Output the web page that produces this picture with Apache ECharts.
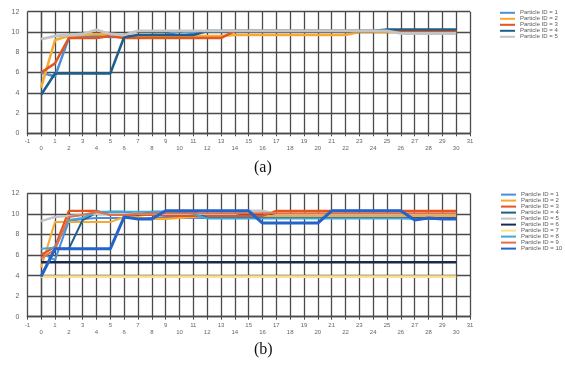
<!DOCTYPE html>
<html>
<head>
<meta charset="utf-8">
<script src="https://cdn.jsdelivr.net/npm/echarts@6/dist/echarts.min.js"></script>
<style>
html,body{margin:0;padding:0;background:#fff;}
#c{width:565px;height:366px;}
</style>
</head>
<body>
<div id="c"></div>
<script>
// ---- data ----
const xValues = [0,1,2,3,4,5,6,7,8,9,10,11,12,13,14,15,16,17,18,19,20,21,22,23,24,25,26,27,28,29,30];
const yTicks = [0,2,4,6,8,10,12];
const xTicks = [-1,31];

const namesA = ['Particle ID = 1','Particle ID = 2','Particle ID = 3','Particle ID = 4','Particle ID = 5'];
const namesB = ['Particle ID = 1','Particle ID = 2','Particle ID = 3','Particle ID = 4','Particle ID = 5',
                'Particle ID = 6','Particle ID = 7','Particle ID = 8','Particle ID = 9','Particle ID = 10'];

// chart (a)
const a_id1 = [6.0,5.6,9.4,9.5,9.6,9.5,9.5,9.6,9.7,9.7,10.1,9.9,10.1,10.1,10.1,10.1,10.1,10.1,10.1,10.1,10.1,10.1,10.1,10.1,10.1,10.1,10.1,10.1,10.1,10.1,10.1];
const a_id2 = [4.5,9.2,9.6,9.7,9.8,9.7,9.55,9.55,9.55,9.55,9.55,9.6,9.6,9.6,9.7,9.7,9.7,9.7,9.7,9.7,9.7,9.7,9.7,10.0,10.0,10.0,10.0,10.0,10.0,10.0,10.0];
const a_id3 = [6.0,6.9,9.4,9.4,9.4,9.6,9.4,9.4,9.4,9.4,9.4,9.4,9.4,9.4,10.1,10.1,10.1,10.1,10.1,10.1,10.1,10.1,10.1,10.1,10.1,10.1,10.1,10.1,10.1,10.1,10.1];
const a_id4 = [3.8,5.9,5.9,5.9,5.9,5.9,9.5,9.7,9.7,9.7,9.7,9.7,10.1,10.1,10.1,10.1,10.1,10.1,10.1,10.1,10.1,10.1,10.1,10.1,10.1,10.25,10.25,10.25,10.25,10.25,10.25];
const a_id5 = [9.3,9.6,9.7,9.8,10.2,9.8,9.7,10.1,10.1,10.1,10.1,10.1,10.1,10.1,10.1,10.1,10.1,10.1,10.1,10.1,10.1,10.1,10.1,10.1,10.1,10.1,9.85,9.85,9.85,9.85,9.85];

// chart (b)
const b_id1 = [6.2,5.5,9.3,9.5,9.6,9.6,9.6,9.6,9.6,9.6,9.6,9.6,9.6,9.6,9.6,9.6,9.6,9.6,9.6,9.6,9.6,9.6,9.6,9.6,9.6,9.6,9.6,9.6,9.6,9.6,9.6];
const b_id2 = [4.8,9.2,9.2,9.2,9.2,9.2,9.7,9.7,9.5,9.5,9.6,9.7,9.8,9.8,9.8,9.8,9.8,9.8,9.8,9.8,9.8,9.8,9.8,9.8,9.8,9.8,9.8,9.8,9.8,9.8,9.8];
const b_id3 = [6.0,6.8,10.3,10.3,10.3,9.9,9.9,9.9,9.9,9.8,9.8,9.8,9.8,9.8,9.8,9.8,9.8,10.3,10.3,10.3,10.3,10.3,10.3,10.3,10.3,10.3,10.3,10.3,10.3,10.3,10.3];
const b_id4 = [4.0,6.6,6.6,9.4,10.1,10.2,10.2,9.9,10.2,10.2,10.2,10.2,9.6,9.6,9.6,9.6,9.6,9.6,9.6,9.6,9.6,9.6,9.6,9.6,9.6,9.6,9.6,9.6,9.6,9.6,9.6];
const b_id5 = [9.3,9.7,9.8,9.9,10.0,10.0,10.0,10.0,10.0,10.0,10.0,10.0,10.0,10.0,10.0,10.3,10.3,10.0,10.0,10.0,10.0,10.0,10.0,10.0,10.0,10.0,10.0,10.0,10.0,10.0,10.0];
const b_id6 = [5.3,5.3,5.3,5.3,5.3,5.3,5.3,5.3,5.3,5.3,5.3,5.3,5.3,5.3,5.3,5.3,5.3,5.3,5.3,5.3,5.3,5.3,5.3,5.3,5.3,5.3,5.3,5.3,5.3,5.3,5.3];
const b_id7 = [3.9,3.9,3.9,3.9,3.9,3.9,3.9,3.9,3.9,3.9,3.9,3.9,3.9,3.9,3.9,3.9,3.9,3.9,3.9,3.9,3.9,3.9,3.9,3.9,3.9,3.9,3.9,3.9,3.9,3.9,3.9];
const b_id8 = [6.6,6.7,9.4,9.6,10.2,10.2,10.2,10.2,10.2,10.2,10.2,10.0,9.55,9.55,9.55,9.55,9.55,9.55,9.55,9.55,9.55,9.55,9.55,9.55,9.55,9.55,9.55,9.5,9.5,9.5,9.5];
const b_id9 = [5.7,6.5,9.7,9.9,10.2,9.9,9.9,10.0,10.0,10.05,10.05,10.05,10.05,10.05,10.05,10.05,10.05,10.05,10.05,10.05,10.05,10.05,10.05,10.05,10.05,10.05,10.05,10.05,10.05,10.05,10.05];
const b_id10 = [3.9,6.6,6.6,6.6,6.6,6.6,9.7,9.5,9.5,10.3,10.3,10.3,10.3,10.3,10.3,10.3,9.1,9.1,9.1,9.1,9.1,10.3,10.3,10.3,10.3,10.3,10.3,9.4,9.6,9.5,9.5];

const seriesA = [a_id1,a_id2,a_id3,a_id4,a_id5];
const seriesB = [b_id1,b_id2,b_id3,b_id4,b_id5,b_id6,b_id7,b_id8,b_id9,b_id10];

// ---- styles ----
const colors = ['#4A90D9','#F7A934','#E3561E','#1F5F8B','#C4C4C4','#1B2A4C','#FFE08A','#3FA7DC','#E2704C','#2463C9'];
const widthsA = [2.5,2.5,2.5,2.5,2.8];
const widthsB = [2,2,2.2,2,2.4,2.6,2.6,2,2,3];

const chart = echarts.init(document.getElementById('c'), null, {renderer:'canvas'});

const gridLine = {show:true, lineStyle:{color:'#4a4a4a', width:1.3}};
const labelFont = 'Liberation Sans';

function xAxisDef(gi){
  return {
    type:'value', gridIndex:gi, min:xTicks[0], max:xTicks[1], interval:1,
    axisLine:{show:true, onZero:false, lineStyle:{color:'#4a4a4a', width:1.3}},
    axisTick:{show:true, length:3, lineStyle:{color:'#4a4a4a'}},
    splitLine:gridLine,
    axisLabel:{
      color:'#666', fontSize:6, fontFamily:labelFont, lineHeight:7, margin:5,
      formatter:function(v){ return (Math.round(v) % 2 !== 0) ? String(v) : '\n' + v; }
    }
  };
}
function yAxisDef(gi){
  return {
    type:'value', gridIndex:gi, min:yTicks[0], max:yTicks[yTicks.length-1], interval:2,
    axisLine:{show:true, lineStyle:{color:'#4a4a4a', width:1.3}},
    axisTick:{show:true, length:5, lineStyle:{color:'#4a4a4a'}},
    splitLine:gridLine,
    axisLabel:{color:'#666', fontSize:7, fontFamily:labelFont, margin:8}
  };
}

const series = [];
seriesA.forEach((arr,i)=>{
  series.push({
    name:namesA[i], type:'line', xAxisIndex:0, yAxisIndex:0,
    data:xValues.map((x,k)=>[x,arr[k]]),
    showSymbol:false, symbol:'none', animation:false,
    lineStyle:{color:colors[i], width:widthsA[i]}, itemStyle:{color:colors[i]}
  });
});
seriesB.forEach((arr,i)=>{
  series.push({
    name:namesB[i], type:'line', xAxisIndex:1, yAxisIndex:1,
    data:xValues.map((x,k)=>[x,arr[k]]),
    showSymbol:false, symbol:'none', animation:false,
    lineStyle:{color:colors[i], width:widthsB[i]}, itemStyle:{color:colors[i]}
  });
});

const legendCommon = {
  orient:'vertical', icon:'rect', itemWidth:15, itemHeight:2, itemGap:0,
  selectedMode:false, padding:0,
  textStyle:{color:'#595959', fontSize:6, fontFamily:labelFont, lineHeight:5}
};

chart.setOption({
  animation:false,
  backgroundColor:'#fff',
  grid:[
    {left:27.3, right:95, top:11.7, height:121.6},
    {left:27.3, right:95, top:193.3, height:123.4}
  ],
  xAxis:[xAxisDef(0), xAxisDef(1)],
  yAxis:[yAxisDef(0), yAxisDef(1)],
  legend:[
    Object.assign({}, legendCommon, {left:500, top:9.8, data:namesA}),
    Object.assign({}, legendCommon, {left:501, top:191.6, data:namesB, textStyle:Object.assign({}, legendCommon.textStyle, {lineHeight:4.7})})
  ],
  graphic:[
    {type:'text', left:254, top:160, style:{text:'(a)', font:'16px "Liberation Serif"', fill:'#111'}},
    {type:'text', left:254, top:342, style:{text:'(b)', font:'16px "Liberation Serif"', fill:'#111'}}
  ],
  series:series
});
</script>
</body>
</html>
